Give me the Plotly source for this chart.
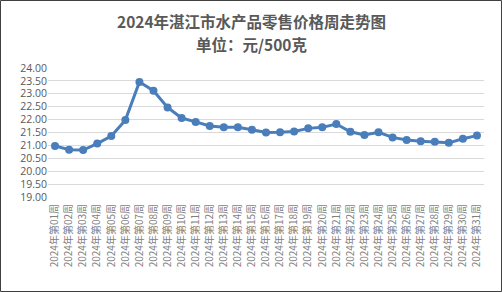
import plotly.graph_objects as go

weeks = [f"2024年第{i:02d}周" for i in range(1, 32)]
prices = [20.98, 20.83, 20.82, 21.07, 21.36, 21.98, 23.46, 23.12, 22.47, 22.06,
          21.91, 21.75, 21.70, 21.70, 21.61, 21.50, 21.51, 21.54, 21.66, 21.70,
          21.83, 21.53, 21.40, 21.51, 21.31, 21.21, 21.16, 21.14, 21.10, 21.26, 21.38]
title1 = "2024年湛江市水产品零售价格周走势图"
title2 = "单位：元/500克"

W, H = 502, 292
L, R, T, B = 48, 18, 68, 95
pw, ph = W - L - R, H - T - B

font_fam = "Open Sans, Noto Sans CJK SC, sans-serif"
grey = "#595959"

fig = go.Figure()
fig.add_trace(go.Scatter(
    x=weeks, y=prices, mode="lines+markers",
    line=dict(color="#4a7ebb", width=3),
    marker=dict(color="#4a7ebb", size=8),
    showlegend=False,
))

fig.update_layout(
    width=W, height=H,
    margin=dict(l=L, r=R, t=T, b=B),
    paper_bgcolor="white", plot_bgcolor="white",
    font=dict(family=font_fam, color=grey),
    xaxis=dict(
        type="category", range=[-0.5, 30.5], tickangle=-90,
        tickfont=dict(size=10, color="#7f7f7f", family="Noto Sans CJK SC"),
        showgrid=False, showline=False, ticks="", ticklabelstandoff=4,
    ),
    yaxis=dict(
        range=[19, 24], dtick=0.5, tick0=19, tickformat=".2f",
        tickfont=dict(size=10.5, color=grey),
        showgrid=True, gridcolor="#d9d9d9", gridwidth=1,
        zeroline=False, showline=False, ticks="",
    ),
    annotations=[
        dict(text=f"<b>{title1}</b>", xref="paper", yref="paper",
             x=(W / 2 - L) / pw, y=1 + (T - 21) / ph, showarrow=False,
             xanchor="center", yanchor="middle",
             font=dict(size=15.5, color=grey, family="Noto Sans CJK SC")),
        dict(text=f"<b>{title2}</b>", xref="paper", yref="paper",
             x=(W / 2 - L) / pw, y=1 + (T - 43.5) / ph, showarrow=False,
             xanchor="center", yanchor="middle",
             font=dict(size=15.5, color=grey, family="Noto Sans CJK SC")),
    ],
    shapes=[
        dict(type="rect", xref="paper", yref="paper",
             x0=-(L - 0.5) / pw, x1=1 + (R - 0.5) / pw,
             y0=-(B - 0.5) / ph, y1=1 + (T - 0.5) / ph,
             line=dict(color="#404040", width=1), fillcolor="rgba(0,0,0,0)",
             layer="below"),
    ],
)

fig.write_html("out.html")
